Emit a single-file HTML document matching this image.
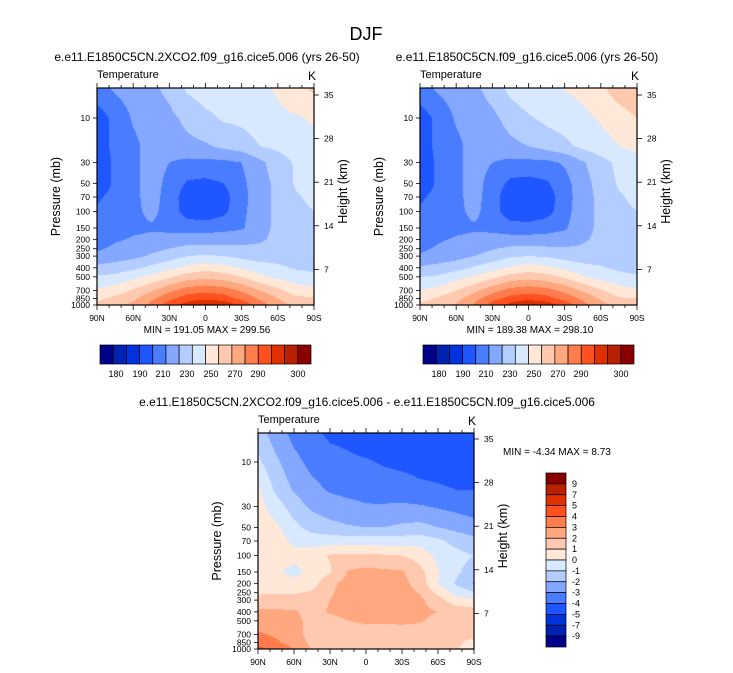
<!DOCTYPE html>
<html><head><meta charset="utf-8">
<style>
body{margin:0;background:#fff;width:733px;height:673px;position:relative;overflow:hidden;font-family:"Liberation Sans",sans-serif}
canvas{position:absolute}
svg{position:absolute;left:0;top:0}
</style></head><body>
<canvas id="c1" style="left:97px;top:88px" width="217" height="217"></canvas>
<canvas id="c2" style="left:420px;top:88px" width="217" height="217"></canvas>
<canvas id="c3" style="left:258px;top:433px" width="216" height="216"></canvas>
<svg id="ov" width="733" height="673"></svg>
<script>
const lats=[90,75,60,45,30,15,0,-15,-30,-45,-60,-75,-90];
const levels=[5,10,20,30,50,70,100,150,200,300,400,500,700,850,1000];
const colors=["#00008a","#0022b0","#0033dd","#1e56ff","#4a7cff","#84a8ff","#b4cdff","#d8e8ff","#ffe8d8","#ffc9b0","#ffa880","#ff7c4c","#ff5020","#e03000","#b82000","#8a0000"];
const tBounds=[180,188,196,204,212,220,228,236,244,252,260,268,276,284,292];
const dBounds=[-9,-7,-5,-4,-3,-2,-1,0,1,2,3,4,5,7,9];
const tLabels=["180","190","210","230","250","270","290","300"];
const dLabels=["9","7","5","4","3","2","1","0","-1","-2","-3","-4","-5","-7","-9"];
const pTicks=[10,30,50,70,100,150,200,250,300,400,500,700,850,1000];
const hTicks=[35,28,21,14,7];
const latTicks=["90N","60N","30N","0","30S","60S","90S"];
// temperatures (K), rows = levels, cols = lats
const tempA=[
[208,213,216,218,222,229,232,232,232,234,237,242,245],
[200,206,213,216,218,222,226,229,230,232,234,235,237],
[200,206,210,215,216,218,219,222,224,228,230,232,234],
[200,205,210,215,212,210,210,210,212,218,224,229,232],
[200,205,210,215,210,203,202,204,210,217,222,229,232],
[203,206,210,215,209,199,198,201,209,217,222,227,230],
[205,206,210,214,209,200,198,202,210,217,222,226,228],
[206,206,210,211,210,209,209,210,211,217,222,224,226],
[207,211,213,214,215,216,216,216,217,219,222,223,224],
[214,216,218,221,224,228,229,228,226,224,224,224,222],
[222,224,226,230,234,238,241,239,235,232,230,227,226],
[229,230,234,238,243,248,250,248,244,238,234,232,230],
[237,240,245,251,258,264,266,264,259,252,246,240,238],
[242,246,250,258,266,272,274,272,266,259,252,246,245],
[246,250,254,262,272,280,286,282,274,264,256,250,248]];
const tempB=[
[208,213,216,218,223,230,234,235,236,238,242,248,252],
[200,206,213,216,218,223,227,230,232,234,237,240,244],
[200,206,210,215,216,218,220,223,226,230,233,236,238],
[200,205,210,215,212,210,210,210,213,219,225,230,233],
[200,205,210,215,209,202,201,203,209,217,223,229,232],
[203,206,210,215,208,198,196,200,208,217,222,227,230],
[205,206,210,214,208,199,197,201,209,217,222,226,228],
[206,206,210,211,210,208,208,209,211,217,222,224,226],
[207,211,213,214,215,215,215,215,216,219,222,223,224],
[213,215,217,220,223,227,228,227,225,223,223,223,221],
[221,223,225,229,233,237,240,238,234,231,229,226,225],
[228,229,233,237,242,247,249,247,243,237,233,231,229],
[236,239,244,250,257,263,265,263,258,251,245,239,237],
[241,245,249,257,265,271,273,271,265,258,251,245,244],
[245,249,253,261,271,279,285,281,273,263,255,249,247]];
const diff=[
[-1.5,-2.5,-3.3,-3.7,-4.2,-4.3,-4.6,-4.6,-4.6,-4.6,-4.6,-4.6,-4.6],
[-0.8,-1.8,-2.7,-3.3,-3.6,-3.8,-3.9,-4.1,-4.2,-4.3,-4.3,-4.3,-4.3],
[0.2,-1.2,-2.1,-2.7,-3.1,-3.3,-3.4,-3.5,-3.6,-3.8,-3.9,-4,-4],
[0.4,-0.5,-1.5,-2.2,-2.5,-2.7,-2.9,-2.9,-2.8,-2.9,-3.1,-3.3,-3.5],
[0.5,0.2,-0.7,-1.4,-1.7,-1.9,-2,-2,-1.8,-1.7,-2,-2.3,-2.6],
[0.9,0.5,-0.2,-0.4,-0.4,-0.5,-0.5,-0.5,-0.5,-0.4,-0.8,-1.3,-1.7],
[0.6,0.4,0.3,0.5,1.1,1.2,1.2,1.1,1,0.6,-0.3,-0.7,-1],
[0.5,0.2,-0.3,0.3,0.9,2.1,2.3,2.2,2.1,1.3,0.1,-0.8,-1.5],
[0.6,0.5,0.3,0.6,1.8,2.3,2.4,2.3,2.3,1.6,0,-1.1,-2.1],
[1.2,1.3,1.4,1.6,2,2.3,2.4,2.4,2.4,2.2,1.4,0.4,0.2],
[2.2,2.2,2.1,1.7,2.1,2.3,2.4,2.3,2.3,2.2,2,1.6,1.5],
[2.3,2.3,2.2,1.8,1.7,2,2.1,2.1,2.2,2.1,1.7,1.5,1.4],
[3.2,2.8,2.3,1.7,1.5,1.6,1.7,1.6,1.5,1.5,1.3,1.5,1.5],
[3.6,3.2,2.5,1.8,1.4,1.4,1.5,1.5,1.4,1.3,1.2,1.3,0.5],
[4.3,3.8,3,1.9,1.3,1.4,1.5,1.5,1.4,1.3,1.1,1.1,0.5]];

const PPX=93.5; // px per pressure decade
function hex(c){return [parseInt(c.substr(1,2),16),parseInt(c.substr(3,2),16),parseInt(c.substr(5,2),16)];}
const rgb=colors.map(hex);
function sample(grid,lat,lp){
  let fi=(90-lat)/15; fi=Math.max(0,Math.min(lats.length-1-1e-6,fi));
  const lls=levels.map(Math.log10);
  let j=0; while(j<lls.length-2&&lp>lls[j+1]) j++;
  let fj=(lp-lls[j])/(lls[j+1]-lls[j]); fj=Math.max(0,Math.min(1,fj));
  const i=Math.floor(fi), fx=fi-i;
  const a=grid[j][i],b=grid[j][i+1],c=grid[j+1][i],d=grid[j+1][i+1];
  return (a*(1-fx)+b*fx)*(1-fj)+(c*(1-fx)+d*fx)*fj;
}
function paint(id,grid,bounds,y10,top){
  const cv=document.getElementById(id),ctx=cv.getContext('2d');
  const W=cv.width,H=cv.height,img=ctx.createImageData(W,H);
  for(let y=0;y<H;y++){
    const lp=1+(top+y+0.5-y10)/PPX;
    for(let x=0;x<W;x++){
      const lat=90-180*(x+0.5)/W;
      const v=sample(grid,lat,lp);
      let k=0; while(k<bounds.length&&v>=bounds[k]) k++;
      const o=(y*W+x)*4,c=rgb[k];
      img.data[o]=c[0];img.data[o+1]=c[1];img.data[o+2]=c[2];img.data[o+3]=255;
    }
  }
  ctx.putImageData(img,0,0);
}
paint('c1',tempA,tBounds,118,88);
paint('c2',tempB,tBounds,118,88);
paint('c3',diff,dBounds,462,433);

const ov=document.getElementById('ov');
const NS="http://www.w3.org/2000/svg";
function el(tag,attrs,parent){const e=document.createElementNS(NS,tag);for(const k in attrs)e.setAttribute(k,attrs[k]);(parent||ov).appendChild(e);return e;}
function txt(x,y,s,size,anchor,name,extra){
  const t=el('text',Object.assign({x:x,y:y,'font-size':size,'text-anchor':anchor||'start','font-family':'Liberation Sans, sans-serif',fill:'#000'},extra||{}));
  t.textContent=s;
  
  
  return t;
}
function panel(L,T,S,y10,h35,pfx,title,tcx){
  const g=el('g',{});
  
  
  const R=L+S,B=T+S;
  el('rect',{x:L,y:T,width:S,height:S,fill:'none',stroke:'#000','stroke-width':1.2},g);
  pTicks.forEach(p=>{
    const y=y10+PPX*(Math.log10(p)-1);
    el('line',{x1:L-4,x2:L,y1:y,y2:y,stroke:'#000','stroke-width':0.8},g);
    txt(L-7,y+3,String(p),8.5,'end',pfx+'-pressure-tick-label');
  });
  hTicks.forEach((h,i)=>{
    const y=h35+i*43.6;
    el('line',{x1:R,x2:R+5,y1:y,y2:y,stroke:'#000','stroke-width':0.8},g);
    txt(R+10,y+3,String(h),8.5,'start',pfx+'-height-tick-label');
  });
  for(let i=0;i<=18;i++){
    const x=L+S*i/18, major=i%3===0;
    el('line',{x1:x,x2:x,y1:B,y2:B+(major?5:3),stroke:'#000','stroke-width':0.8},g);
    el('line',{x1:x,x2:x,y1:T,y2:T-(major?5:3),stroke:'#000','stroke-width':0.8},g);
  }
  latTicks.forEach((s,i)=>txt(L+S*i/6,B+16,s,8.5,'middle',pfx+'-lat-tick-label'));
  txt(L,T-10,'Temperature',11,'start',pfx+'-variable-label');
  txt(R-2,T-8,'K',12,'middle',pfx+'-units-label');
  txt(0,0,'Pressure (mb)',12.5,'middle',pfx+'-y-axis-title',{transform:`translate(${L-37},${T+S/2}) rotate(-90)`});
  txt(0,0,'Height (km)',12.5,'middle',pfx+'-y2-axis-title',{transform:`translate(${R+33},${T+S/2-5}) rotate(-90)`});
  txt(tcx,T-27,title,12,'middle',pfx+'-title');
}
txt(366,40,'DJF',18,'middle','main-title');
panel(97,88,217,118,95,'control','e.e11.E1850C5CN.2XCO2.f09_g16.cice5.006 (yrs 26-50)',207);
panel(420,88,217,118,95,'experiment','e.e11.E1850C5CN.f09_g16.cice5.006 (yrs 26-50)',527);
panel(258,433,216,462,439,'difference','e.e11.E1850C5CN.2XCO2.f09_g16.cice5.006 - e.e11.E1850C5CN.f09_g16.cice5.006',367);
txt(207,333,'MIN = 191.05  MAX = 299.56',10,'middle','control-min-max');
txt(530,333,'MIN = 189.38  MAX = 298.10',10,'middle','experiment-min-max');
txt(503,455,'MIN =  -4.34  MAX =  8.73',10,'start','difference-min-max',{'xml:space':'preserve'});
const tLabelX=[116,140,163,187,211,235,258,298];
[[100,'control'],[423,'experiment']].forEach(([x0,p])=>{
  const g=el('g',{});
  
  
  const w=211/colors.length;
  colors.forEach((c,i)=>el('rect',{x:x0+i*w,y:345,width:w,height:19,fill:c,stroke:'#000','stroke-width':0.7},g));
  tLabels.forEach((s,i)=>txt(tLabelX[i]+(x0-100),377,s,9,'middle',p+'-colorbar-label'));
});
{
  const g=el('g',{});
  
  
  const h=174/colors.length;
  colors.slice().reverse().forEach((c,i)=>el('rect',{x:546,y:473+i*h,width:20,height:h,fill:c,stroke:'#000','stroke-width':0.7},g));
  dLabels.forEach((s,i)=>txt(572,473+(i+1)*h+3,s,9,'start','difference-colorbar-label'));
}
</script>
</body></html>
